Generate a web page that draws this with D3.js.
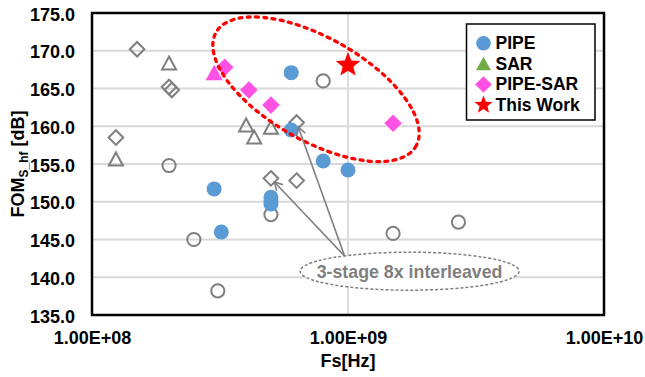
<!DOCTYPE html>
<html><head><meta charset="utf-8">
<script src="https://cdn.jsdelivr.net/npm/d3@7"></script>
<style>body{margin:0;background:#fff}svg{display:block}text{font-family:"Liberation Sans",Arial,sans-serif;font-weight:bold}</style>
</head><body>
<svg id="c" width="645" height="377"></svg>
<script>
// ---- data ----
const yTicks = [135, 140, 145, 150, 155, 160, 165, 170, 175];
const xTicks = [1e8, 1e9, 1e10];
const xTickLabels = ["1.00E+08", "1.00E+09", "1.00E+10"];
const legendLabels = ["PIPE", "SAR", "PIPE-SAR", "This Work"];

const pipeX = [6.0e8, 6.0e8, 8.0e8, 1.0e9, 3.0e8, 3.2e8, 5.0e8, 5.0e8, 5.0e8];
const pipeY = [167.1, 159.5, 155.4, 154.2, 151.7, 146.0, 150.6, 150.1, 149.7];

const pipeSarX = [3.3e8, 4.1e8, 5.0e8, 1.5e9];
const pipeSarY = [167.8, 164.8, 162.8, 160.4];

const sarHiX = [3.0e8];
const sarHiY = [166.9];

const thisWorkX = [1.0e9];
const thisWorkY = [168.1];

const priorPipeX = [2.0e8, 8.0e8, 2.5e8, 3.1e8, 5.0e8, 1.5e9, 2.7e9];
const priorPipeY = [154.8, 166.0, 145.0, 138.2, 148.3, 145.8, 147.3];

const priorSarX = [2.0e8, 1.24e8, 4.0e8, 4.3e8, 5.0e8];
const priorSarY = [168.2, 155.5, 160.0, 158.4, 159.7];

const priorPipeSarX = [1.5e8, 1.24e8, 2.0e8, 2.05e8, 5.0e8, 6.3e8, 6.3e8];
const priorPipeSarY = [170.2, 158.5, 165.2, 164.8, 153.1, 152.8, 160.5];

const noteText = "3-stage 8x interleaved";
const arrowTargets = [4, 6]; // indices into prior PIPE-SAR points

// ---- chart ----
const svg = d3.select("#c");
const L = 92, R = 604, T = 13, B = 315;
const x = d3.scaleLog().domain([1e8, 1e10]).range([L, R]);
const y = d3.scaleLinear().domain([135, 175]).range([B, T]);
const zip = (a, b) => a.map((v, i) => [v, b[i]]);

const BLUE = "#5b9bd5", GREEN = "#70ad47", PINK = "#ff52e5", RED = "#ff0000", GRAY = "#7f7f7f";

// grid
svg.append("g").selectAll("line").data(yTicks.slice(1, -1)).join("line")
  .attr("x1", L).attr("x2", R).attr("y1", d => y(d)).attr("y2", d => y(d))
  .attr("stroke", "#d9d9d9").attr("stroke-width", 1.8);
svg.append("g").selectAll("line").data(xTicks.slice(1, -1)).join("line")
  .attr("x1", d => x(d)).attr("x2", d => x(d)).attr("y1", T).attr("y2", B)
  .attr("stroke", "#d9d9d9").attr("stroke-width", 1.8);

// axes (labels via d3 axis)
const yAxis = svg.append("g").attr("transform", `translate(${L},0)`)
  .call(d3.axisLeft(y).tickValues(yTicks).tickFormat(d3.format(".1f")).tickSize(0).tickPadding(17));
const xAxis = svg.append("g").attr("transform", `translate(0,${B})`)
  .call(d3.axisBottom(x).tickValues(xTicks).tickFormat((d, i) => xTickLabels[i]).tickSize(0).tickPadding(16));
[yAxis, xAxis].forEach(g => {
  g.select(".domain").remove();
  g.selectAll("text").attr("font-size", 18).attr("fill", "#000")
    .attr("font-family", '"Liberation Sans",Arial,sans-serif').attr("font-weight", "bold");
});
yAxis.selectAll("text").attr("dy", "0.40em");
xAxis.selectAll("text").attr("dy", "0.72em");

// plot border
svg.append("rect").attr("x", L).attr("y", T).attr("width", R - L).attr("height", B - T)
  .attr("fill", "none").attr("stroke", "#000").attr("stroke-width", 2.5);

// axis titles
svg.append("text").attr("x", (L + R) / 2 + 0).attr("y", 367).attr("text-anchor", "middle")
  .attr("font-size", 18).text("Fs[Hz]");
const yt = svg.append("text").attr("transform", `translate(24,${(T + B) / 2}) rotate(-90)`)
  .attr("text-anchor", "middle").attr("font-size", 18);
yt.append("tspan").text("FOM");
yt.append("tspan").attr("font-size", 12).attr("dy", 4).text("S_hf");
yt.append("tspan").attr("dy", -4).text(" [dB]");

// marker paths
const diamond = h => `M0,${-h}L${h},0L0,${h}L${-h},0Z`;
const tri = (w, h) => `M0,${-h * 0.6}L${w / 2},${h * 0.4}L${-w / 2},${h * 0.4}Z`;
const star = (Ro, Ri) => {
  let p = "";
  for (let i = 0; i < 10; i++) {
    const r = i % 2 ? Ri : Ro, a = -Math.PI / 2 + i * Math.PI / 5;
    p += (i ? "L" : "M") + (r * Math.cos(a)).toFixed(2) + "," + (r * Math.sin(a)).toFixed(2);
  }
  return p + "Z";
};

const pts = svg.append("g");
function draw(xs, ys, path, fill, stroke, sw) {
  pts.append("g").selectAll("path").data(zip(xs, ys)).join("path")
    .attr("transform", d => `translate(${x(d[0])},${y(d[1])})`)
    .attr("d", path).attr("fill", fill).attr("stroke", stroke).attr("stroke-width", sw);
}
const circ = r => `M${r},0A${r},${r} 0 1 1 ${-r},0A${r},${r} 0 1 1 ${r},0Z`;

draw(priorPipeX, priorPipeY, circ(6.6), "none", GRAY, 2);
draw(priorSarX, priorSarY, tri(14, 13), "none", GRAY, 2);
draw(priorPipeSarX, priorPipeSarY, diamond(7.3), "none", GRAY, 2);
draw(pipeX, pipeY, circ(7.5), BLUE, "none", 0);
draw(sarHiX, sarHiY, tri(17, 15.5), PINK, "none", 0);
draw(pipeSarX, pipeSarY, diamond(8.8), PINK, "none", 0);
draw(thisWorkX, thisWorkY, star(13, 5.6), RED, "none", 0);

// red dashed ellipse
svg.append("ellipse").attr("cx", 0).attr("cy", 0).attr("rx", 115).attr("ry", 51.5)
  .attr("transform", `translate(${x(7.5e8)},${y(164.9)}) rotate(29.6)`)
  .attr("fill", "none").attr("stroke", RED).attr("stroke-width", 3.3)
  .attr("stroke-dasharray", "3,5.3").attr("stroke-linecap", "round");

// arrows
const sx = x(9.7e8), sy = y(142.8);
const ag = svg.append("g");
arrowTargets.forEach(i => {
  const tx0 = x(priorPipeSarX[i]), ty0 = y(priorPipeSarY[i]);
  const dx = sx - tx0, dy = sy - ty0, len = Math.hypot(dx, dy), ux = dx / len, uy = dy / len;
  const tx = tx0 + ux * 5, ty = ty0 + uy * 5;
  ag.append("line").attr("x1", sx).attr("y1", sy).attr("x2", tx).attr("y2", ty)
    .attr("stroke", GRAY).attr("stroke-width", 1.6);
  const hl = 8, hw = 4.5;
  const bx = tx + ux * hl, by = ty + uy * hl;
  ag.append("path")
    .attr("d", `M${bx - uy * hw},${by + ux * hw}L${tx},${ty}L${bx + uy * hw},${by - ux * hw}`)
    .attr("fill", "none").attr("stroke", GRAY).attr("stroke-width", 1.6);
});

// note ellipse + text
const ncx = x(1.74e9), ncy = y(140.8);
svg.append("ellipse").attr("cx", ncx).attr("cy", ncy).attr("rx", 109.5).attr("ry", 19)
  .attr("fill", "#fff").attr("stroke", GRAY).attr("stroke-width", 1.5).attr("stroke-dasharray", "3,2");
svg.append("text").attr("x", ncx).attr("y", ncy + 6.5).attr("text-anchor", "middle")
  .attr("font-size", 17.8).attr("fill", GRAY).text(noteText);

// legend
const lg = svg.append("g");
lg.append("rect").attr("x", 466.5).attr("y", 24).attr("width", 128.5).attr("height", 96)
  .attr("fill", "#fff").attr("stroke", "#000").attr("stroke-width", 1.5);
const lgShapes = [
  [circ(7.3), BLUE], [tri(15, 13.7), GREEN], [diamond(8.3), PINK], [star(9.5, 4.1), RED]
];
const ly = d3.scalePoint().domain(legendLabels).range([43.3, 105]);
legendLabels.forEach((lab, i) => {
  lg.append("path").attr("transform", `translate(483.5,${ly(lab) + (i === 1 ? 1 : 0)})`)
    .attr("d", lgShapes[i][0]).attr("fill", lgShapes[i][1]);
  lg.append("text").attr("x", 495.5).attr("y", ly(lab) + 6).attr("font-size", 17.5).text(lab);
});
</script>
</body></html>
